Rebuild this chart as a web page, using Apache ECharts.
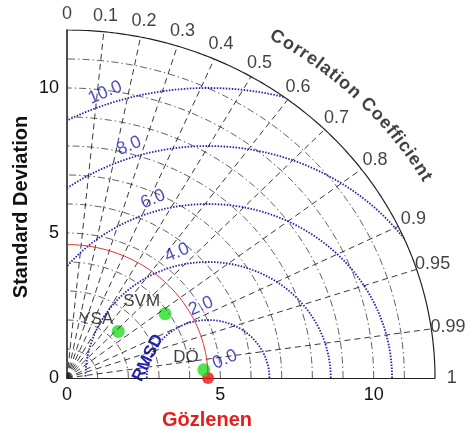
<!DOCTYPE html>
<html lang="en">
<head>
<meta charset="UTF-8">
<title>Taylor diyagramı</title>
<script src="https://cdn.jsdelivr.net/npm/echarts@6/dist/echarts.min.js"></script>
<style>
	html, body { margin: 0; padding: 0; background: #fff; }
	#chart { width: 468px; height: 437px; }
</style>
</head>
<body>
<div id="chart"></div>
<script>
	// values
	var modelNames = ['YSA', 'SVM', 'DÖ'];
	var modelStd = [2.32, 3.89, 4.47];
	var modelCorr = [0.721, 0.822, 0.998];
	var refName = 'Gözlenen';
	var refStd = 4.6;

	var corrTicks = [0, 0.1, 0.2, 0.3, 0.4, 0.5, 0.6, 0.7, 0.8, 0.9, 0.95, 0.99, 1];
	var stdLevels = [1, 2, 3, 4, 5, 6, 7, 8, 9, 10, 11];
	var stdMax = 12;
	var axisTicks = [0, 5, 10];
	var rmsLevels = [2, 4, 6, 8, 10];
	var rmsLabels = [0, 2, 4, 6, 8, 10];

	var FONT = '"Liberation Sans", Arial, sans-serif';
	var BLUE = '#2222b0';

	function toXY(r, c) {
		return [r * c, r * Math.sqrt(Math.max(0, 1 - c * c))];
	}

	function arcPoints(r) {
		var pts = [];
		for (var a = 0; a <= 90.001; a += 0.5) {
			var t = a * Math.PI / 180;
			pts.push([r * Math.cos(t), r * Math.sin(t)]);
		}
		return pts;
	}

	// rms circle around the reference point, kept inside the quarter disc
	function rmsPoints(r) {
		var pts = [];
		for (var a = 0; a <= 180.001; a += 0.25) {
			var t = a * Math.PI / 180;
			var x = refStd + r * Math.cos(t), y = r * Math.sin(t);
			if (x >= 0 && x * x + y * y <= stdMax * stdMax) pts.push([x, y]);
		}
		return pts;
	}

	var series = [];

	stdLevels.forEach(function (r) {
		series.push({
			type: 'line', data: arcPoints(r), showSymbol: false, silent: true,
			lineStyle: { color: '#333', width: 0.8, type: [7, 3, 1.5, 3] }
		});
	});
	series.push({
		type: 'line', data: arcPoints(stdMax), showSymbol: false, silent: true,
		lineStyle: { color: '#222', width: 1.2 }
	});

	corrTicks.forEach(function (c) {
		if (c === 0 || c === 1) return;
		series.push({
			type: 'line', data: [[0, 0], toXY(stdMax, c)], showSymbol: false, silent: true,
			lineStyle: { color: '#222', width: 0.9, type: [6, 4] }
		});
	});

	rmsLevels.forEach(function (r) {
		series.push({
			type: 'line', data: rmsPoints(r), showSymbol: false, silent: true,
			lineStyle: { color: BLUE, width: 1.8, type: [1.5, 1.5] }
		});
	});

	series.push({
		type: 'line', data: arcPoints(refStd), showSymbol: false, silent: true,
		lineStyle: { color: '#e03030', width: 1 }
	});

	// reference point and models
	series.push({
		type: 'scatter', clip: false, symbolSize: 12,
		itemStyle: { color: '#ee1111' },
		data: [toXY(refStd, 1)]
	});
	series.push({
		type: 'scatter', clip: false, symbolSize: 13,
		itemStyle: { color: '#22e022' },
		label: {
			show: true, position: [1.5, 2.5], align: 'right', verticalAlign: 'bottom',
			fontSize: 17, fontFamily: FONT, color: '#111',
			formatter: function (p) { return p.name; }
		},
		data: modelNames.map(function (n, i) {
			return { name: n, value: toXY(modelStd[i], modelCorr[i]) };
		})
	});

	// correlation tick labels just outside the outer arc
	series.push({
		type: 'scatter', clip: false, symbolSize: 1, silent: true,
		itemStyle: { color: 'rgba(0,0,0,0)' },
		label: {
			show: true, position: 'inside', align: 'center', verticalAlign: 'middle',
			fontSize: 18, fontFamily: FONT, color: '#111',
			formatter: function (p) { return p.name; }
		},
		data: corrTicks.map(function (c) {
			return { name: String(c), value: toXY(stdMax + 0.55, c) };
		})
	});

	// rmsd labels along a ray from the reference point
	var rmsAng = 113 * Math.PI / 180;
	series.push({
		type: 'scatter', clip: false, symbolSize: 1, silent: true,
		itemStyle: { color: 'rgba(0,0,0,0)' },
		label: {
			show: true, position: 'inside', align: 'center', verticalAlign: 'middle',
			fontSize: 18, fontFamily: FONT, color: BLUE, rotate: 23,
			formatter: function (p) { return p.name; }
		},
		data: rmsLabels.map(function (r) {
			return {
				name: r.toFixed(1),
				value: [refStd + r * Math.cos(rmsAng) + 0.55, r * Math.sin(rmsAng) + 0.64]
			};
		})
	});

	// curved title, one character at a time
	var titleText = 'Correlation Coefficient';
	var titleFont = 'bold 18px ' + FONT;
	var ctx = document.createElement('canvas').getContext('2d');
	ctx.font = titleFont;
	var centres = [], acc = 0;
	titleText.split('').forEach(function (ch) {
		var w = ctx.measureText(ch).width;
		centres.push(acc + w / 2);
		acc += w;
	});
	var a0 = 59.8, a1 = 30.6, rT = 13.6;
	var titleData = [];
	titleText.split('').forEach(function (ch, i) {
		if (ch === ' ') return;
		var a = a0 + (centres[i] - centres[0]) / (centres[centres.length - 1] - centres[0]) * (a1 - a0);
		var t = a * Math.PI / 180;
		titleData.push({
			name: ch, value: [rT * Math.cos(t), rT * Math.sin(t)],
			label: { rotate: a - 90 }
		});
	});
	series.push({
		type: 'scatter', clip: false, symbolSize: 1, silent: true,
		itemStyle: { color: 'rgba(0,0,0,0)' },
		label: {
			show: true, position: 'inside', align: 'center', verticalAlign: 'middle',
			fontSize: 18, fontWeight: 'bold', fontFamily: FONT, color: '#111',
			formatter: function (p) { return p.name; }
		},
		data: titleData
	});

	var axisCommon = {
		type: 'value', min: 0, max: stdMax, interval: 5,
		splitLine: { show: false },
		axisTick: { show: false },
		axisLabel: {
			fontSize: 18, fontFamily: FONT, color: '#111', margin: 8,
			formatter: function (v) { return axisTicks.indexOf(v) >= 0 ? String(v) : ''; }
		}
	};

	var chart = echarts.init(document.getElementById('chart'));
	chart.setOption({
		animation: false,
		grid: { left: 67, top: 30, width: 368, height: 348 },
		xAxis: echarts.util.merge({
			axisLine: { lineStyle: { color: '#222', width: 1.2 } }
		}, axisCommon, true),
		yAxis: echarts.util.merge({
			axisLine: { lineStyle: { color: '#222', width: 1.6 } }
		}, axisCommon, true),
		graphic: [
			{
				type: 'text', x: 21, y: 207, rotation: Math.PI / 2,
				style: {
					text: 'Standard Deviation', font: 'bold 20px ' + FONT, fill: '#111',
					textAlign: 'center', textVerticalAlign: 'middle'
				}
			},
			{
				type: 'text', x: 207, y: 420,
				style: {
					text: refName, font: 'bold 20px ' + FONT, fill: '#e41e1e',
					textAlign: 'center', textVerticalAlign: 'middle'
				}
			},
			{
				type: 'text', x: 148, y: 358, rotation: 64 * Math.PI / 180,
				style: {
					text: 'RMSD', font: 'bold 17px ' + FONT, fill: BLUE,
					textAlign: 'center', textVerticalAlign: 'middle'
				}
			}
		],
		series: series
	});
</script>
</body>
</html>
